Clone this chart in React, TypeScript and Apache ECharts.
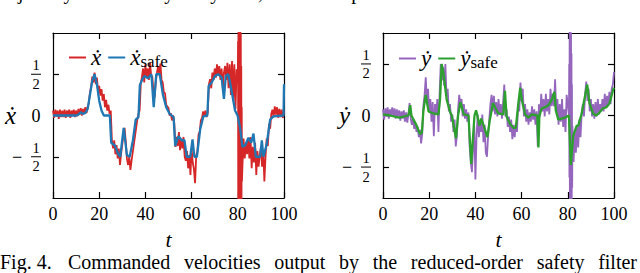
import React, { useEffect, useRef } from 'react';
import * as echarts from 'echarts';

const FONT = "'Liberation Serif', 'DejaVu Serif', serif";

// time step of the noisy commanded signals
const T_STEP = 0.5;

// commanded x velocity (t = 0, 0.5, ..., 100)
const xDot: number[] = [
  0.06, -0.03, 0.07, -0.01, 0.06, -0.04, 0.07, -0.02, 0.06, -0.02,
  0.07, -0.03, 0.06, -0.01, 0.07, -0.03, 0.06, 0.0, 0.07, -0.02,
  0.06, -0.01, 0.08, 0.01, 0.09, 0.0, 0.08, 0.02, 0.1, 0.03,
  0.1, 0.15, 0.28, 0.35, 0.47, 0.4, 0.52, 0.38, 0.46, 0.3,
  0.36, 0.24, 0.32, 0.18, 0.26, 0.1, 0.19, 0.06, 0.13, 0.02,
  0.06, -0.3, -0.4, -0.3, -0.47, -0.36, -0.52, -0.4, -0.6, -0.46,
  -0.35, -0.22, -0.15, -0.32, -0.52, -0.6, -0.5, -0.66, -0.55, -0.45,
  -0.35, -0.25, -0.15, -0.05, 0.02, 0.06, 0.38, 0.47, 0.57, 0.4,
  0.62, 0.46, 0.57, 0.43, 0.64, 0.48, 0.47, 0.28, 0.22, 0.42,
  0.52, 0.6, 0.5, 0.63, 0.43, 0.4, 0.28, 0.27, 0.13, 0.11,
  0.09, 0.0, 0.03, -0.06, 0.0, -0.09, -0.38, -0.26, -0.37, -0.2,
  -0.42, -0.28, -0.4, -0.26, -0.5, -0.55, -0.43, -0.64, -0.48, -0.72,
  -0.4, -0.57, -0.65, -0.82, -0.48, -0.44, -0.23, -0.2, -0.06, -0.03,
  0.05, -0.01, 0.06, -0.02, 0.04, 0.38, 0.44, 0.33, 0.52, 0.43,
  0.57, 0.46, 0.62, 0.48, 0.6, 0.43, 0.57, 0.33, 0.52, 0.6,
  0.43, 0.64, 0.33, 0.62, 0.25, 0.66, 0.18, 0.62, 0.08, 0.56,
  0.4, 0.0, -0.6, -0.7, -0.62, -0.28, -0.52, -0.33, -0.47, -0.28,
  -0.52, -0.26, -0.64, -0.38, -0.57, -0.33, -0.72, -0.43, -0.62, -0.48,
  -0.38, -0.62, -0.43, -0.8, -0.5, -0.28, -0.37, -0.1, -0.16, 0.02,
  0.07, -0.02, 0.11, 0.01, 0.1, -0.03, 0.08, -0.02, 0.07, -0.03,
  0.05,
];

// fast oscillation of the x command around t = 80 [t, value]
const xDotBurst: [number, number][] = [
  [80.1, 0.9], [80.2, -1.3], [80.3, 1.3], [80.4, -1.3], [80.5, 1.3], [80.6, -1.3],
  [80.7, 1.3], [80.8, -1.3], [80.9, 1.3], [81.0, -1.3], [81.1, 1.2], [81.2, -1.3],
  [81.3, 1.0], [81.4, -1.3], [81.5, 0.6], [81.6, -1.1], [81.7, 0.1], [81.8, -0.8],
];

// commanded y velocity (t = 0, 0.5, ..., 100)
const yDot: number[] = [
  0.06, -0.04, 0.07, -0.01, 0.08, -0.03, 0.06, 0.0, 0.08, -0.01,
  0.07, -0.03, 0.06, -0.01, 0.05, -0.05, 0.04, -0.03, 0.05, -0.06,
  0.03, -0.07, 0.01, 0.12, -0.03, -0.09, -0.03, -0.13, -0.07, -0.16,
  -0.11, -0.21, -0.14, -0.27, -0.17, 0.1, 0.2, 0.37, 0.14, 0.26,
  0.04, 0.16, -0.06, 0.13, -0.2, 0.11, 0.01, 0.16, -0.16, 0.21,
  0.5, 0.34, 0.47, 0.29, 0.5, 0.19, 0.26, 0.04, 0.11, -0.06,
  0.01, -0.16, -0.04, -0.3, -0.19, 0.06, 0.2, 0.09, 0.16, -0.01,
  0.11, -0.03, 0.06, -0.06, 0.03, -0.3, -0.45, -0.55, -0.3, -0.1,
  -0.62, -0.2, 0.01, -0.21, -0.07, -0.16, 0.01, -0.26, -0.09, -0.36,
  -0.4, -0.2, -0.04, 0.11, 0.2, 0.04, 0.19, 0.01, 0.13, -0.01,
  0.16, 0.01, 0.11, -0.03, 0.13, 0.3, -0.01, 0.06, -0.11, -0.01,
  -0.16, -0.04, -0.23, -0.09, -0.21, -0.07, -0.16, 0.11, 0.04, 0.32,
  0.14, 0.26, -0.01, 0.11, -0.06, 0.06, -0.09, 0.03, -0.06, 0.09,
  -0.04, 0.06, -0.09, 0.04, -0.3, 0.11, -0.01, 0.21, 0.04, 0.16,
  -0.01, 0.21, 0.04, 0.16, 0.01, 0.26, 0.09, 0.21, 0.09, 0.35,
  0.04, 0.16, -0.09, 0.11, -0.06, 0.16, -0.11, 0.06, -0.16, 0.2,
  0.1, 0.0, -0.2, -0.5, -0.3, -0.45, -0.16, -0.36, -0.09, -0.31,
  -0.04, -0.21, 0.01, 0.11, -0.01, 0.21, 0.33, 0.14, 0.26, 0.04,
  0.16, -0.01, 0.11, -0.03, 0.13, -0.01, 0.16, 0.01, 0.11, 0.04,
  0.16, 0.04, 0.21, 0.07, 0.19, 0.09, 0.23, 0.11, 0.26, 0.3,
  0.42,
];

// fast oscillation of the y command around t = 81 [t, value]
const yDotBurst: [number, number][] = [
  [80.6, 0.5], [80.7, -0.6], [80.8, 0.9], [80.9, -0.9], [81.0, 0.9], [81.1, -0.9],
  [81.2, 0.9], [81.3, -0.9], [81.4, 0.8], [81.5, -0.9], [81.6, 0.6], [81.7, -0.85],
  [81.8, 0.3], [81.9, -0.7], [82.0, -0.1],
];

// safe x velocity [t, value]
const xSafe: [number, number][] = [
  [0, 0], [10, 0], [11, 0.01], [12, 0.04], [13, 0.02], [14, 0.03], [15, 0.08],
  [16, 0.25], [17, 0.42], [18, 0.5], [19, 0.38], [20, 0.18], [21, 0.06], [22, 0],
  [24.6, 0], [25.2, -0.33], [26.7, -0.36], [28.1, -0.46], [29.1, -0.5], [30.6, -0.15],
  [32, -0.48], [33.2, -0.5], [34.6, -0.3], [35.8, -0.05], [37, -0.02], [37.6, 0.37],
  [38.7, 0.44], [39.7, 0.48], [41.1, 0.45], [42.6, 0.5], [43.6, 0.1], [44.7, 0.5],
  [46.2, 0.5], [47.6, 0.25], [49, 0.1], [50.5, 0.02], [52.2, -0.02], [52.9, -0.37],
  [54.3, -0.25], [55.7, -0.3], [56.9, -0.3], [57.9, -0.5], [59.4, -0.5], [60.4, -0.29],
  [61.2, -0.5], [62.3, -0.5], [63.7, -0.17], [65.1, -0.01], [66.8, 0], [67.4, 0.36],
  [68.7, 0.4], [70.1, 0.48], [71.6, 0.5], [73, 0.46], [74, 0.2], [74.8, 0.48],
  [75.9, 0.5], [77.3, 0.3], [78.8, 0.06], [79.9, 0], [81, -0.15], [82, -0.38],
  [83.2, -0.36], [84.6, -0.27], [85.8, -0.33], [86.8, -0.22], [87.8, -0.5], [89.7, -0.5],
  [90.4, -0.3], [91.1, -0.5], [92.5, -0.35], [94, -0.05], [95.4, -0.01], [99.8, 0],
  [100, 0.38],
];

// safe y velocity [t, value]
const ySafe: [number, number][] = [
  [0, 0.01], [3, 0], [7, -0.02], [11, 0], [11.8, 0.1], [12.3, 0], [14.6, -0.1],
  [16, -0.18], [16.8, -0.17], [17.5, 0.05], [18.5, 0.2], [19.7, 0.04], [21.8, 0.02],
  [24, 0.01], [24.7, 0.16], [25.4, 0.5], [26.1, 0.42], [27.6, 0.15], [29.1, 0.03],
  [29.8, 0], [31, -0.15], [31.6, -0.22], [32.5, 0.0], [33.5, 0.13], [35, 0.01], [37, 0],
  [38.2, -0.47], [39.6, 0], [40.3, 0.05], [41.8, -0.1], [42.5, -0.03], [43.3, -0.08],
  [45.2, -0.21], [46.2, -0.05], [47.6, 0.12], [48.5, 0.08], [49.9, 0.02], [52.1, 0.01],
  [52.8, 0.24], [53.5, -0.01], [55, -0.08], [56.4, -0.12], [57.5, -0.12], [58.6, 0.12],
  [59.4, 0.27], [60.1, 0.15], [61.5, 0.01], [62.9, -0.02], [64.4, 0.01], [66.8, 0],
  [67.3, -0.31], [67.7, 0], [68.7, 0.07], [70.1, 0.08], [71.6, 0.1], [73, 0.15],
  [74.2, 0.23], [74.8, 0.05], [75.9, -0.04], [77.3, -0.03], [78.8, -0.02], [80.5, 0.0],
  [81.3, -0.48], [82.3, -0.2], [83.8, -0.1], [84.5, -0.1], [85.9, 0.01], [87.3, 0.17],
  [88.4, 0.3], [89.4, 0.12], [90.9, 0.02], [92.3, 0.0], [93.8, 0.03], [95.2, 0.07],
  [96.7, 0.08], [98.1, 0.12], [99.6, 0.25], [100, 0.27],
];

const yTickValues = [-0.5, 0, 0.5];
const leftYRange = [-1, 1];
const rightYRange = [-0.8, 0.8];

const CAPTION_LABEL = 'Fig. 4.';
const CAPTION_TEXT = 'Commanded velocities output by the reduced-order safety filter';
const TOP_TEXT = 'trajectory of the unicycle system, where the positive direction is';

const COLORS = { xDot: '#d62728', xSafe: '#1f77b4', yDot: '#9467bd', ySafe: '#2ca02c' };

export default function App() {
  const ref = useRef<HTMLDivElement>(null);

  useEffect(() => {
    document.body.style.margin = '0';
    const chart = echarts.init(ref.current!, null, { renderer: 'svg' });

    const line = { color: '#000', width: 1.2 };
    const toPairs = (vals: number[]) => vals.map((v, i) => [i * T_STEP, v]);
    const withBurst = (vals: number[], burst: [number, number][]) => {
      const a = burst[0][0];
      const b = burst[burst.length - 1][0];
      const base = toPairs(vals);
      return [...base.filter((p) => p[0] < a), ...burst, ...base.filter((p) => p[0] > b)];
    };

    const mkX = (gi: number) => [
      {
        type: 'value', gridIndex: gi, min: 0, max: 100, interval: 20, position: 'bottom',
        axisLine: { onZero: false, lineStyle: line },
        axisTick: { inside: true, length: 6, lineStyle: line },
        axisLabel: { color: '#000', fontSize: 18, fontFamily: FONT, margin: 7 },
        splitLine: { show: false },
        name: 't', nameLocation: 'middle', nameGap: 30,
        nameTextStyle: { color: '#000', fontSize: 22, fontStyle: 'italic', fontFamily: FONT },
      },
      {
        type: 'value', gridIndex: gi, min: 0, max: 100, interval: 20, position: 'top',
        axisLine: { onZero: false, lineStyle: line },
        axisTick: { inside: true, length: 6, lineStyle: line },
        axisLabel: { show: false },
        splitLine: { show: false },
      },
    ];
    const mkY = (gi: number, range: number[], name: string, gap: number) => [
      {
        type: 'value', gridIndex: gi, min: range[0], max: range[1], position: 'left',
        axisLine: { onZero: false, lineStyle: line },
        axisTick: { inside: true, length: 6, lineStyle: line, customValues: yTickValues },
        axisLabel: { show: false, customValues: yTickValues },
        splitLine: { show: false },
        name, nameLocation: 'middle', nameRotate: 0, nameGap: gap,
        nameTextStyle: { color: '#000', fontSize: 25, fontStyle: 'italic', fontFamily: FONT },
      },
      {
        type: 'value', gridIndex: gi, min: range[0], max: range[1], position: 'right',
        axisLine: { onZero: false, lineStyle: line },
        axisTick: { inside: true, length: 6, lineStyle: line, customValues: yTickValues },
        axisLabel: { show: false, customValues: yTickValues },
        splitLine: { show: false },
      },
    ];

    const legendText = {
      color: '#000',
      fontFamily: FONT,
      rich: {
        m: { fontSize: 23, fontStyle: 'italic', fontFamily: FONT, lineHeight: 24, color: '#000' },
        s: { fontSize: 17, fontFamily: FONT, verticalAlign: 'bottom', color: '#000' },
      },
    };
    const legendFmt = (name: string) =>
      name.endsWith('_safe') ? `{m|${name.charAt(0)}}{s|safe}` : `{m|${name}}`;

    const option: any = {
      animation: false,
      backgroundColor: '#fff',
      grid: [
        { left: 53, top: 33, width: 231, height: 165 },
        { left: 383, top: 33, width: 231, height: 165 },
      ],
      xAxis: [...mkX(0), ...mkX(1)],
      yAxis: [...mkY(0, leftYRange, 'ẋ', 37), ...mkY(1, rightYRange, 'ẏ', 33)],
      legend: [
        {
          data: ['ẋ', 'ẋ_safe'], left: 69, top: 46, padding: 0, itemGap: 7,
          itemWidth: 17, itemHeight: 2, icon: 'rect', textStyle: legendText, formatter: legendFmt,
        },
        {
          data: ['ẏ', 'ẏ_safe'], left: 399, top: 47, padding: 0, itemGap: 7,
          itemWidth: 17, itemHeight: 2, icon: 'rect', textStyle: legendText, formatter: legendFmt,
        },
      ],
      series: [
        {
          name: 'ẋ', type: 'line', xAxisIndex: 0, yAxisIndex: 0, data: withBurst(xDot, xDotBurst),
          showSymbol: false, clip: true, color: COLORS.xDot, lineStyle: { width: 1.8, color: COLORS.xDot },
        },
        {
          name: 'ẋ_safe', type: 'line', xAxisIndex: 0, yAxisIndex: 0, data: xSafe,
          showSymbol: false, clip: true, color: COLORS.xSafe, lineStyle: { width: 2.3, color: COLORS.xSafe },
        },
        {
          name: 'ẏ', type: 'line', xAxisIndex: 2, yAxisIndex: 2, data: withBurst(yDot, yDotBurst),
          showSymbol: false, clip: true, color: COLORS.yDot, lineStyle: { width: 1.8, color: COLORS.yDot },
        },
        {
          name: 'ẏ_safe', type: 'line', xAxisIndex: 2, yAxisIndex: 2, data: ySafe,
          showSymbol: false, clip: true, color: COLORS.ySafe, lineStyle: { width: 2.3, color: COLORS.ySafe },
        },
      ],
    };
    chart.setOption(option);

    const txt = (x: number, y: number, text: string, size: number, extra: any = {}) => ({
      type: 'text', x, y, silent: true,
      style: {
        text, fontSize: size, fontFamily: FONT, fill: '#000',
        align: 'center', verticalAlign: 'middle', textAlign: 'center', textVerticalAlign: 'middle',
        ...extra,
      },
    });
    const graphics: any[] = [];

    // y tick labels as stacked fractions, positioned from the axis scale
    [0, 1].forEach((gi) => {
      yTickValues.forEach((v) => {
        const p = chart.convertToPixel({ gridIndex: gi } as any, [0, v]) as number[];
        if (!p) return;
        const cx = p[0] - 17;
        const y = p[1];
        if (v === 0) {
          graphics.push(txt(cx, y, '0', 18));
        } else {
          graphics.push(txt(cx, y - 9, '1', 14.5));
          graphics.push({
            type: 'line', silent: true,
            shape: { x1: cx - 5, y1: y, x2: cx + 5, y2: y },
            style: { stroke: '#000', lineWidth: 1 },
          });
          graphics.push(txt(cx, y + 9.5, '2', 14.5));
          if (v < 0) graphics.push(txt(cx - 19, y, '−', 18));
        }
      });
    });

    // caption: justified words between the label and the right edge
    const CAP_SIZE = 20;
    const CAP_Y = 262;
    graphics.push(txt(0, CAP_Y, CAPTION_LABEL, CAP_SIZE, { align: 'left', textAlign: 'left' }));
    const words = CAPTION_TEXT.split(' ');
    const cv = document.createElement('canvas').getContext('2d')!;
    cv.font = `${CAP_SIZE}px ${FONT}`;
    const widths = words.map((w) => cv.measureText(w).width);
    const startX = 68;
    const endX = 637;
    const gap = (endX - startX - widths.reduce((s, w) => s + w, 0)) / (words.length - 1);
    let cx = startX;
    words.forEach((w, i) => {
      graphics.push(txt(cx, CAP_Y, w, CAP_SIZE, { align: 'left', textAlign: 'left' }));
      cx += widths[i] + gap;
    });

    // the previous caption line, of which only the descenders show
    graphics.push(txt(-3, 1.5, TOP_TEXT, CAP_SIZE, {
      align: 'left', textAlign: 'left', verticalAlign: 'bottom', textVerticalAlign: 'bottom',
    }));
    chart.setOption({ graphic: graphics });

    return () => chart.dispose();
  }, []);

  return <div ref={ref} style={{ width: 640, height: 273 }} />;
}
